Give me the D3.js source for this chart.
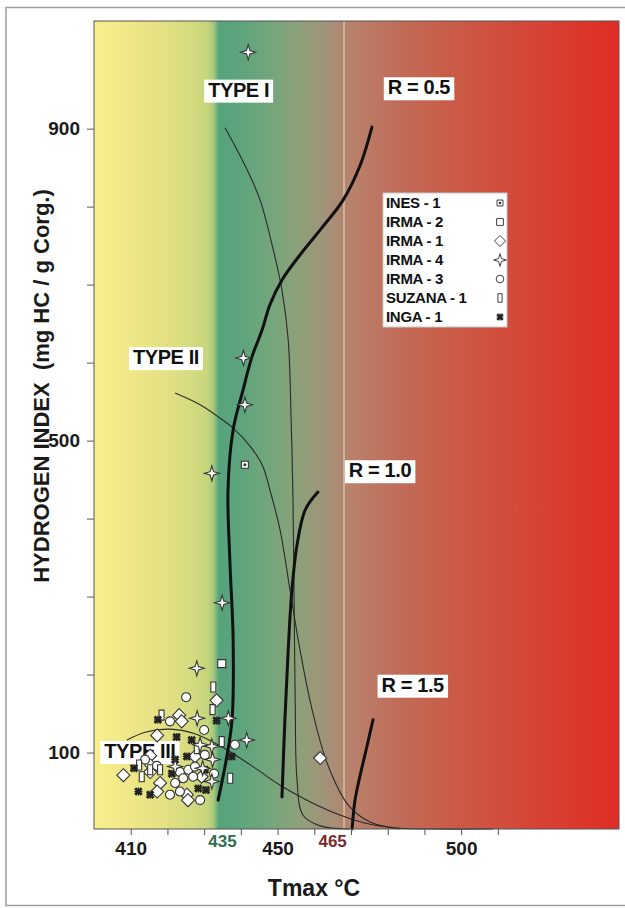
<!DOCTYPE html>
<html><head><meta charset="utf-8">
<script src="https://cdn.jsdelivr.net/npm/d3@7"></script>
<style>
body{margin:0;background:#fff;}
svg{display:block;font-family:"Liberation Sans",Arial,sans-serif;}
</style>
</head><body>
<svg id="c" width="625" height="908"></svg>
<script>
// ---------- DATA ----------
const xTicks = [410,420,430,440,450,460,470,480,490,500,510];
const xTickLabels = [410,450,500];
const xSpecialLabels = [435,465];
const yTicks = [100,200,300,400,500,600,700,800,900];
const yTickLabels = [100,500,900];

// background gradient (Tmax positions of colour stops)
const bgStopT = [400,410,420,427,431,432.6,434,440,448,456,464.3,467.5,469.7,483,497,516,538,543];
const bgStopC = ["#f8ee8c","#efe788","#e2e083","#d4da7f","#c6d47c","#a6c87c","#56a37b","#5ea47c","#74a67c","#8ea07a","#a69079","#ae876e","#b8826c","#c06c58","#c95c48","#d4483a","#de3228","#e02c26"];
const vLineT = 468.1;

// kerogen type curves (Tmax, HI)
const typeI_T  = [435.7,441.1,445.2,448.5,451.2,452.9,453.7,454.2,454.5,454.8,455.3,456.9,461.6,469.7];
const typeI_HI = [901,853,809,751,693,629,526,424,296,167,65,20,6,2];
const typeII_T  = [422.1,428.9,434.3,437.9,442.5,445.8,447.9,450.7,453.4,456.1,459.4,463.7,469.2,475.2,483.4];
const typeII_HI = [561,546,529,516,493,469,437,385,308,232,155,84,33,11,2];
const typeIII_T  = [409.0,413.9,420.7,427.5,433.0,437.1,443.9,450.7,458.8,467.0,475.2,483.4,491.5,508.7];
const typeIII_HI = [116,126,130,124,112,101,80,58,37,20,8,3,2,2];

// vitrinite reflectance lines
const r05_T  = [433.8,436.0,437.6,437.9,437.0,436.5,437.9,440.6,443.0,445.8,447.9,451.2,456.1,462.1,467.8,472.5,475.7];
const r05_HI = [39,90,142,244,347,437,514,565,607,642,674,706,738,773,808,853,902];
const r10_T  = [451.2,452.0,452.9,453.9,455.3,457.5,461.0];
const r10_HI = [43,142,232,308,366,411,434];
const r15_T  = [470.3,471.1,472.5,474.1,476.0];
const r15_HI = [2,39,71,103,142];

// annotation labels (Tmax, HI of centre)
const annoText = ["TYPE I","R = 0.5","TYPE II","R = 1.0","R = 1.5","TYPE III"];
const annoT  = [439.4,488.5,419.6,477.9,486.8,412.5];
const annoHI = [950,953,607,462,187,102];

// wells
const wellNames = ["INES - 1","IRMA - 2","IRMA - 1","IRMA - 4","IRMA - 3","SUZANA - 1","INGA - 1"];
const ines1_T = [441.1];
const ines1_HI = [469];
const irma2_T = [434.8];
const irma2_HI = [214];
const irma1_T = [461.6,433.4,423.2,417.2,427.5,408.0,415.3,429.3,418.0,417.2,425.3,423.9,415.3,425.6];
const irma1_HI = [93,167,148,122,95,71,75,69,61,50,46,140,96,39];
const irma4_T = [442.0,440.7,441.1,432.1,434.9,428.0,428.1,436.6,432.1,441.6,432.3,422.1,429.6,432.1,428.9];
const irma4_HI = [998,606,546,458,292,208,144,144,108,116,91,82,80,63,110];
const irma3_T = [425.1,420.7,430.0,438.4,415.0,417.1,423.4,425.7,427.5,432.7,427.0,424.3,422.1,423.4,428.9,420.7,430.2,413.9];
const irma3_HI = [171,140,129,110,86,83,75,78,82,73,69,67,61,50,39,46,97,91];
const suzana1_T = [432.5,432.3,418.4,428.0,434.8,412.3,418.0,413.0,437.1,415.3];
const suzana1_HI = [184,155,148,105,114,84,78,69,67,78];
const inga1_T = [417.4,433.4,422.5,426.6,425.3,437.5,410.9,421.2,428.4,412.1,430.5,415.3,422.1,430.2];
const inga1_HI = [142,141,120,116,95,95,80,73,54,50,52,46,91,78];

// ---------- CHART ----------
const svg = d3.select("#c");
const x = d3.scaleLinear().domain([400,543]).range([94,619]);
const y = d3.scaleLinear().domain([2,1038]).range([829,21]);
const [x0,x1] = x.range(), [y1,y0] = y.range();

// outer frame
svg.append("rect").attr("x",6).attr("y",7.5).attr("width",640).attr("height",898)
  .attr("fill","none").attr("stroke","#9c9c9c").attr("stroke-width",1.5);

// gradient
const defs = svg.append("defs");
const g = defs.append("linearGradient").attr("id","bg").attr("gradientUnits","userSpaceOnUse")
  .attr("x1",x0).attr("x2",x1).attr("y1",0).attr("y2",0);
bgStopT.forEach((t,i)=>g.append("stop").attr("offset",(x(t)-x0)/(x1-x0)).attr("stop-color",bgStopC[i]));
svg.append("rect").attr("x",x0).attr("y",y0).attr("width",x1-x0).attr("height",y1-y0).attr("fill","url(#bg)");
svg.append("line").attr("x1",x(vLineT)).attr("x2",x(vLineT)).attr("y1",y0).attr("y2",y1)
  .attr("stroke","#dcc6b2").attr("stroke-width",1.3);

// curves
const line = d3.line().x(d=>x(d[0])).y(d=>y(d[1])).curve(d3.curveCatmullRom.alpha(0.5));
const zip = (a,b)=>a.map((v,i)=>[v,b[i]]);
[[typeI_T,typeI_HI],[typeII_T,typeII_HI],[typeIII_T,typeIII_HI]].forEach(([a,b])=>{
  svg.append("path").attr("d",line(zip(a,b))).attr("fill","none").attr("stroke","#2a2a2a").attr("stroke-width",1.1);
});
[[r05_T,r05_HI],[r10_T,r10_HI],[r15_T,r15_HI]].forEach(([a,b])=>{
  svg.append("path").attr("d",line(zip(a,b))).attr("fill","none").attr("stroke","#111").attr("stroke-width",3).attr("stroke-linecap","round");
});

// annotation labels
annoText.forEach((t,i)=>{
  const gg = svg.append("g");
  const tx = gg.append("text").attr("x",x(annoT[i])).attr("y",y(annoHI[i])+7)
    .attr("text-anchor","middle").attr("font-size",20).attr("font-weight","bold")
    .attr("letter-spacing",-0.4).attr("fill","#111").text(t);
  const bb = tx.node().getBBox();
  gg.insert("rect","text").attr("x",bb.x-4).attr("y",bb.y+1).attr("width",bb.width+8).attr("height",bb.height+1).attr("fill","#fff");
});

// symbols
function drawSym(sel, type, cx, cy, k=1){
  const gg = sel.append("g").attr("transform",`translate(${cx},${cy}) scale(${k})`);
  const st = {fill:"#fff",stroke:"#333","stroke-width":1.1};
  const ap = (d)=>{const p=gg.append("path").attr("d",d); Object.entries(st).forEach(([a,v])=>p.attr(a,v)); return p;};
  if(type==="sqdot"){ ap("M-3.5,-3.5h7v7h-7z"); gg.append("circle").attr("r",1.5).attr("fill","#333"); }
  else if(type==="square"){ ap("M-4,-4h8v8h-8z"); }
  else if(type==="diamond"){ ap("M0,-6.5L6.5,0L0,6.5L-6.5,0Z"); }
  else if(type==="star4"){ const r=7.5,q=1.7; ap(`M0,${-r}L${q},${-q}L${r},0L${q},${q}L0,${r}L${-q},${q}L${-r},0L${-q},${-q}Z`); }
  else if(type==="circle"){ const c=gg.append("circle").attr("r",4.5); Object.entries(st).forEach(([a,v])=>c.attr(a,v)); }
  else if(type==="rect"){ ap("M-2.5,-5h5v10h-5z"); }
  else if(type==="ast"){
    gg.append("path").attr("d","M-3.3,-3.3L3.3,3.3M-3.3,3.3L3.3,-3.3").attr("stroke","#222").attr("stroke-width",2.8);
    gg.append("path").attr("d","M0,-4V4M-4,0H4").attr("stroke","#222").attr("stroke-width",1.3);
  }
}
const wells = [
  ["sqdot",ines1_T,ines1_HI],["square",irma2_T,irma2_HI],["diamond",irma1_T,irma1_HI],
  ["star4",irma4_T,irma4_HI],["circle",irma3_T,irma3_HI],["rect",suzana1_T,suzana1_HI],["ast",inga1_T,inga1_HI]
];
const pts = svg.append("g");
[2,4,5,1,0,6,3].forEach(wi=>{
  const [type,ts,hs] = wells[wi];
  ts.forEach((t,i)=>drawSym(pts,type,x(t),y(hs[i])));
});

// legend
const lg = svg.append("g");
lg.append("rect").attr("x",383).attr("y",193).attr("width",124).attr("height",134).attr("fill","#fff").attr("stroke","#c8c8c8");
wellNames.forEach((n,i)=>{
  const cy = 203 + i*19;
  lg.append("text").attr("x",386).attr("y",cy+5).attr("font-size",15).attr("font-weight","bold")
    .attr("letter-spacing",-0.3).attr("fill","#111").text(n);
  drawSym(lg, wells[i][0], 500, cy, 0.85);
});

// axes
const ax = svg.append("g").attr("transform",`translate(0,${y1})`)
  .call(d3.axisBottom(x).tickValues(xTicks).tickSize(6).tickPadding(7)
    .tickFormat(d=>xTickLabels.includes(d)?d:""));
ax.select(".domain").remove();
ax.selectAll("line").attr("stroke","#555");
ax.selectAll("text").attr("font-size",19).attr("font-weight","bold").attr("fill","#1a1a1a").attr("font-family","Liberation Sans, Arial, sans-serif");
const spCol = ["#2f6e4e","#7a2b2b"];
xSpecialLabels.forEach((v,i)=>{
  svg.append("text").attr("x",x(v)).attr("y",847).attr("text-anchor","middle")
    .attr("font-size",17).attr("font-weight","bold").attr("fill",spCol[i]).text(v);
});
const ay = svg.append("g").attr("transform",`translate(${x0},0)`)
  .call(d3.axisLeft(y).tickValues(yTicks).tickSize(7).tickPadding(7)
    .tickFormat(d=>yTickLabels.includes(d)?d:""));
ay.select(".domain").remove();
ay.selectAll("line").attr("stroke","#555");
ay.selectAll("text").attr("font-size",19).attr("font-weight","bold").attr("fill","#1a1a1a").attr("font-family","Liberation Sans, Arial, sans-serif");

// plot border
svg.append("rect").attr("x",x0).attr("y",y0).attr("width",x1-x0).attr("height",y1-y0)
  .attr("fill","none").attr("stroke","#555").attr("stroke-width",1);

// axis titles
svg.append("text").attr("transform","translate(49,386) rotate(-90)").attr("text-anchor","middle")
  .attr("font-size",22).attr("font-weight","bold").attr("fill","#1a1a1a")
  .attr("xml:space","preserve").text("HYDROGEN INDEX  (mg HC / g Corg.)");
svg.append("text").attr("x",314).attr("y",896).attr("text-anchor","middle")
  .attr("font-size",23).attr("font-weight","bold").attr("fill","#1a1a1a").text("Tmax °C");
</script>
</body></html>
